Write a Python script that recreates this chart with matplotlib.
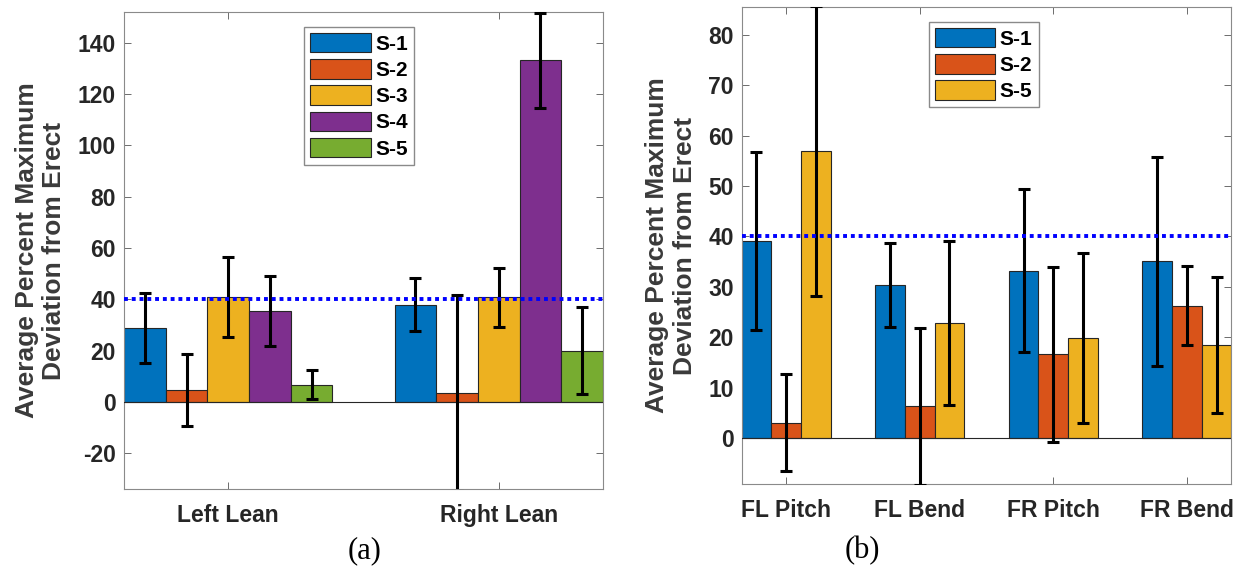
import matplotlib

matplotlib.use("Agg", force=True)
import matplotlib.pyplot as plt
import numpy as np

# panel (a)
lean_groups = ["Left Lean", "Right Lean"]
lean_series = ["S-1", "S-2", "S-3", "S-4", "S-5"]
lean_means = [
    [28.8, 37.9],
    [4.7, 3.4],
    [40.7, 40.7],
    [35.4, 133.1],
    [6.7, 19.9],
]
lean_errs = [
    [13.8, 10.3],
    [14.0, 38.1],
    [15.6, 11.6],
    [13.7, 18.6],
    [5.6, 16.9],
]

# panel (b)
flex_groups = ["FL Pitch", "FL Bend", "FR Pitch", "FR Bend"]
flex_series = ["S-1", "S-2", "S-5"]
flex_means = [
    [39.1, 30.4, 33.2, 35.1],
    [3.05, 6.3, 16.6, 26.3],
    [56.9, 22.8, 19.85, 18.5],
]
flex_errs = [
    [17.7, 8.3, 16.2, 20.7],
    [9.6, 15.5, 17.3, 7.9],
    [28.7, 16.2, 16.8, 13.5],
]

threshold = 40

colors = ["#0072BD", "#D95319", "#EDB120", "#7E2F8E", "#77AC30"]
text_color = "#262626"

plt.rcParams["font.family"] = ["Liberation Sans", "DejaVu Sans"]
plt.rcParams["font.weight"] = "bold"
plt.rcParams["axes.unicode_minus"] = False

fig = plt.figure(figsize=(12.44, 5.77), dpi=100)


def grouped_bars(ax, groups, series, means, errs, colors, width, xlim, ylim, yticks):
    x = np.arange(1, len(groups) + 1)
    n = len(series)
    for i, name in enumerate(series):
        off = (i - (n - 1) / 2) * width
        ax.bar(x + off, means[i], width=width, color=colors[i], edgecolor=text_color,
               linewidth=0.8, label=name, zorder=2)
        ax.errorbar(x + off, means[i], yerr=errs[i], fmt="none", ecolor="black",
                    elinewidth=2.2, capsize=4.5, capthick=2.2, zorder=4)
    ax.axhline(0, color=text_color, linewidth=0.8, zorder=3)
    ax.axhline(threshold, color="#0000FF", linestyle=(0, (1, 1)), linewidth=2.8, zorder=5)
    ax.set_xlim(*xlim)
    ax.set_ylim(*ylim)
    ax.set_xticks(x)
    ax.set_xticklabels(groups)
    ax.set_yticks(yticks)
    ax.tick_params(direction="in", top=True, right=True, length=5, width=0.6,
                   colors="#555555", labelcolor=text_color, labelsize=16.5, pad=6)
    ax.tick_params(axis="x", pad=11)
    for s in ax.spines.values():
        s.set_color("#8a8a8a")
        s.set_linewidth(0.8)
    ax.set_ylabel("Average Percent Maximum\nDeviation from Erect", fontsize=19,
                  fontweight="bold", color="#3a3a3a", labelpad=8, linespacing=1.2)
    for lbl in ax.get_xticklabels() + ax.get_yticklabels():
        lbl.set_fontweight("bold")


def add_legend(ax, anchor):
    ax.legend(loc="upper left", bbox_to_anchor=anchor,
              prop={"weight": "bold", "size": 15}, handlelength=2.9, handleheight=1.05,
              handletextpad=0.2, labelspacing=0.26, borderpad=0.3, borderaxespad=0,
              fancybox=False, edgecolor="#8a8a8a", framealpha=1)


ax1 = fig.add_axes([124 / 1244, 1 - 489 / 577, 479 / 1244, 477 / 577])
grouped_bars(ax1, lean_groups, lean_series, lean_means, lean_errs, colors, 0.154,
             (0.615, 2.385), (-34, 152), np.arange(-20, 141, 20))
add_legend(ax1, (0.376, 0.969))

ax2 = fig.add_axes([742 / 1244, 1 - 484 / 577, 489 / 1244, 477 / 577])
grouped_bars(ax2, flex_groups, flex_series, flex_means, flex_errs, colors[:3], 0.222,
             (0.67, 4.33), (-9.1, 85.5), np.arange(0, 81, 10))
add_legend(ax2, (0.382, 0.969))

serif = ["Liberation Serif", "DejaVu Serif"]
fig.text(365 / 1244, 1 - 551 / 577, "(a)", ha="center", va="center", fontsize=22,
         family=serif, fontweight="normal", color="black")
fig.text(862 / 1244, 1 - 551 / 577, "(b)", ha="center", va="center", fontsize=22,
         family=serif, fontweight="normal", color="black")

fig.savefig("out.png", dpi=100)
